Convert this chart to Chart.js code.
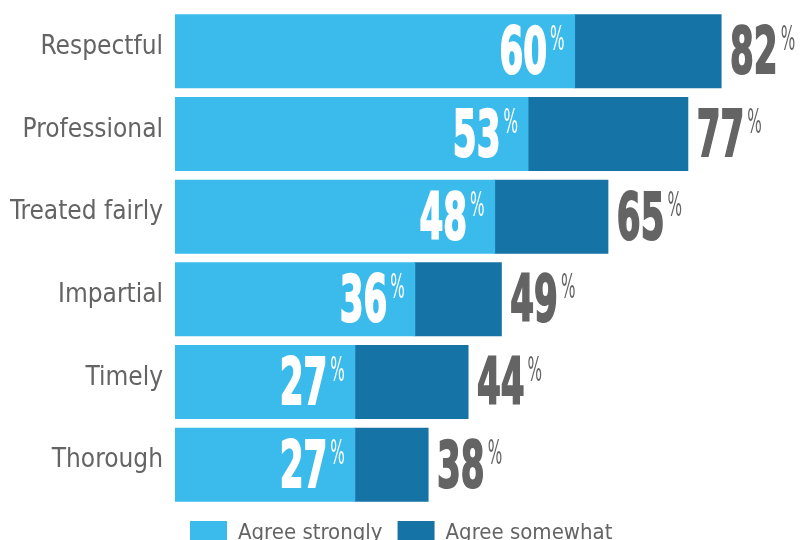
<!DOCTYPE html>
<html>
<head>
<meta charset="utf-8">
<script src="https://cdn.jsdelivr.net/npm/chart.js@4/dist/chart.umd.min.js"></script>
<style>
  html, body { margin: 0; padding: 0; background: #fff; overflow: hidden; }
  #wrap { position: relative; width: 801px; height: 556px; }
</style>
</head>
<body>
<div id="wrap"><canvas id="bars"></canvas></div>
<script>
const categories = ['Respectful', 'Professional', 'Treated fairly', 'Impartial', 'Timely', 'Thorough'];
const agreeStrongly = [60, 53, 48, 36, 27, 27];
const agreeSomewhat = [22, 24, 17, 13, 17, 11];
const seriesNames = ['Agree strongly', 'Agree somewhat'];

const LIGHT = '#3bbbeb';
const DARK = '#1673a6';
const GREY = '#646464';
const NARROW = '"DejaVu Sans Condensed", "Liberation Sans Narrow", sans-serif';

// big condensed number with a small raised percent sign
function drawPct(ctx, value, x, y, align, color) {
  const num = String(value);
  const numFont = 'bold 38px ' + NARROW;
  const pctFont = '17px ' + NARROW;
  ctx.save();
  ctx.fillStyle = color;
  ctx.strokeStyle = color;
  ctx.textAlign = 'left';
  ctx.textBaseline = 'alphabetic';
  ctx.font = numFont;
  const wn = ctx.measureText(num).width;
  ctx.font = pctFont;
  const wp = ctx.measureText('%').width;
  const total = wn + 3 + wp;
  const x0 = align === 'right' ? x - total : x;

  ctx.save();
  ctx.translate(x0, y + 22);
  ctx.scale(1, 1.7);
  ctx.font = numFont;
  ctx.lineWidth = 1.2;
  ctx.fillText(num, 0, 0);
  ctx.strokeText(num, 0, 0);
  ctx.restore();

  ctx.save();
  ctx.translate(x0 + wn + 3, y - 1);
  ctx.scale(1, 1.95);
  ctx.font = pctFont;
  ctx.fillText('%', 0, 0);
  ctx.restore();
  ctx.restore();
}

const valueLabels = {
  id: 'valueLabels',
  afterDatasetsDraw(chart) {
    const ctx = chart.ctx;
    chart.getDatasetMeta(0).data.forEach((bar, i) => {
      drawPct(ctx, agreeStrongly[i], bar.x - 10, bar.y, 'right', '#ffffff');
    });
    chart.getDatasetMeta(1).data.forEach((bar, i) => {
      drawPct(ctx, agreeStrongly[i] + agreeSomewhat[i], bar.x + 9, bar.y, 'left', GREY);
    });
  }
};

new Chart(document.getElementById('bars'), {
  type: 'bar',
  data: {
    labels: categories,
    datasets: [
      { label: seriesNames[0], data: agreeStrongly, backgroundColor: LIGHT, borderWidth: 0, inflateAmount: 0.5 },
      { label: seriesNames[1], data: agreeSomewhat, backgroundColor: DARK, borderWidth: 0, inflateAmount: 0.5 },
    ],
  },
  options: {
    indexAxis: 'y',
    responsive: true, maintainAspectRatio: false,
    animation: false,
    datasets: { bar: { barPercentage: 0.884, categoryPercentage: 1 } },
    layout: { padding: { top: 10, right: 0, bottom: 0, left: 0 } },
    plugins: {
      tooltip: { enabled: false },
      legend: {
        position: 'bottom',
        align: 'start',
        fullSize: false,
        labels: {
          boxWidth: 37, boxHeight: 25, padding: 15,
          color: GREY,
          font: { family: NARROW, size: 22 },
        },
      },
    },
    scales: {
      x: { stacked: true, min: 0, max: 94, display: false },
      y: {
        stacked: true,
        grid: { display: false, drawTicks: false },
        border: { display: false },
        ticks: { color: GREY, padding: 12, labelOffset: -4, font: { family: NARROW, size: 26 } },
        afterFit: (scale) => {
          scale.width = 175;
          scale.paddingTop = 0;
          scale.paddingBottom = 0;
        },
      },
    },
  },
  plugins: [valueLabels],
});
</script>
</body>
</html>
